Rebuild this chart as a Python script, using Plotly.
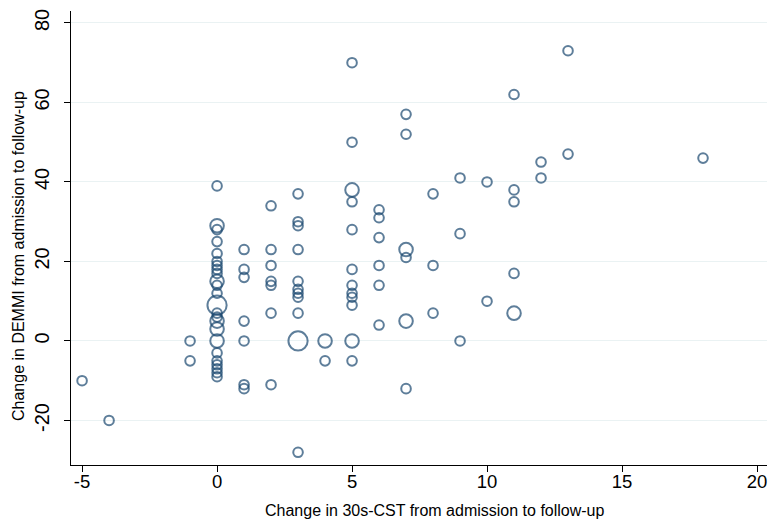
import plotly.graph_objects as go
import math

# Change in 30s-CST (x), change in DEMMI (y), number of patients at that point (weight)
# one line per x column
cst_change = (
    [-5]
    + [-4]
    + [-1] * 2
    + [0] * 24
    + [1] * 7
    + [2] * 7
    + [3] * 11
    + [4] * 2
    + [5] * 12
    + [6] * 6
    + [7] * 6
    + [8] * 3
    + [9] * 3
    + [10] * 2
    + [11] * 5
    + [12] * 2
    + [13] * 2
    + [18]
)
demmi_change = (
    [-10]
    + [-20]
    + [0, -5]
    + [39, 29, 28, 25, 22, 20, 19, 18, 17, 15, 14, 12, 9, 7, 6, 5, 3, 0, -3, -5, -6, -7, -8, -9]
    + [23, 18, 16, 5, 0, -11, -12]
    + [34, 23, 19, 15, 14, 7, -11]
    + [37, 30, 29, 23, 15, 13, 12, 11, 7, 0, -28]
    + [0, -5]
    + [70, 50, 38, 35, 28, 18, 14, 12, 11, 9, 0, -5]
    + [33, 31, 26, 19, 14, 4]
    + [57, 52, 23, 21, 5, -12]
    + [37, 19, 7]
    + [41, 27, 0]
    + [40, 10]
    + [62, 38, 35, 17, 7]
    + [45, 41]
    + [73, 47]
    + [46]
)
weights = (
    [1]
    + [1]
    + [1, 1]
    + [1, 2, 1, 1, 1, 1, 1, 1, 1, 2, 1, 1, 4, 1, 1, 2, 2, 2, 1, 1, 1, 1, 1, 1]
    + [1, 1, 1, 1, 1, 1, 1]
    + [1, 1, 1, 1, 1, 1, 1]
    + [1, 1, 1, 1, 1, 1, 1, 1, 1, 4, 1]
    + [2, 1]
    + [1, 1, 2, 1, 1, 1, 1, 1, 1, 1, 2, 1]
    + [1, 1, 1, 1, 1, 1]
    + [1, 1, 2, 1, 2, 1]
    + [1, 1, 1]
    + [1, 1, 1]
    + [1, 1]
    + [1, 1, 1, 1, 2]
    + [1, 1]
    + [1, 1]
    + [1]
)
assert len(cst_change) == len(demmi_change) == len(weights)

x_ticks = [-5, 0, 5, 10, 15, 20]
y_ticks = [-20, 0, 20, 40, 60, 80]

NAVY = "#1a476f"
FONT = "Liberation Sans, Arial, sans-serif"

sizes = [9.6 * math.sqrt(w) for w in weights]

fig = go.Figure(
    go.Scatter(
        x=cst_change,
        y=demmi_change,
        mode="markers",
        marker=dict(
            symbol="circle-open",
            size=sizes,
            color=NAVY,
            line=dict(width=2.0, color=NAVY),
        ),
        hoverinfo="x+y",
    )
)

axis_common = dict(
    zeroline=False,
    showline=True,
    linecolor="black",
    linewidth=1.3,
    ticks="outside",
    ticklen=6,
    tickcolor="black",
    tickwidth=1.2,
    automargin=False,
)

fig.update_layout(
    width=769,
    height=521,
    margin=dict(l=71, r=2, t=11, b=56),
    paper_bgcolor="white",
    plot_bgcolor="white",
    showlegend=False,
    font=dict(family=FONT, color="black"),
    xaxis=dict(
        range=[-5.41, 20.37],
        tickvals=x_ticks,
        ticktext=[str(v) for v in x_ticks],
        showgrid=False,
        ticklabelstandoff=-6,
        tickfont=dict(size=18.5, family=FONT, color="black"),
        **axis_common,
    ),
    yaxis=dict(
        range=[-31.2, 83.0],
        tickvals=y_ticks,
        ticktext=[str(v) for v in y_ticks],
        tickangle=-90,
        showgrid=True,
        gridcolor="#eaf2f3",
        gridwidth=1.3,
        ticklabelstandoff=7,
        tickfont=dict(size=20, family=FONT, color="black"),
        **axis_common,
    ),
    annotations=[
        dict(
            text="Change in 30s-CST from admission to follow-up",
            xref="paper", yref="paper",
            x=(435 - 71) / (767 - 71), y=-(511 - 465) / (465 - 11),
            xanchor="center", yanchor="middle",
            showarrow=False,
            font=dict(size=16, family=FONT, color="black"),
        ),
        dict(
            text="Change in DEMMI from admission to follow-up",
            xref="paper", yref="paper",
            x=-(71 - 18) / (767 - 71), y=(465 - 256) / (465 - 11),
            xanchor="center", yanchor="middle",
            textangle=-90,
            showarrow=False,
            font=dict(size=16, family=FONT, color="black"),
        ),
    ],
)

# remove the browser's default page margin so the figure fills the window exactly
fig.write_html(
    "out.html",
    config={"displayModeBar": False},
    post_script="document.body.style.margin='0';document.body.style.overflow='hidden';",
)
